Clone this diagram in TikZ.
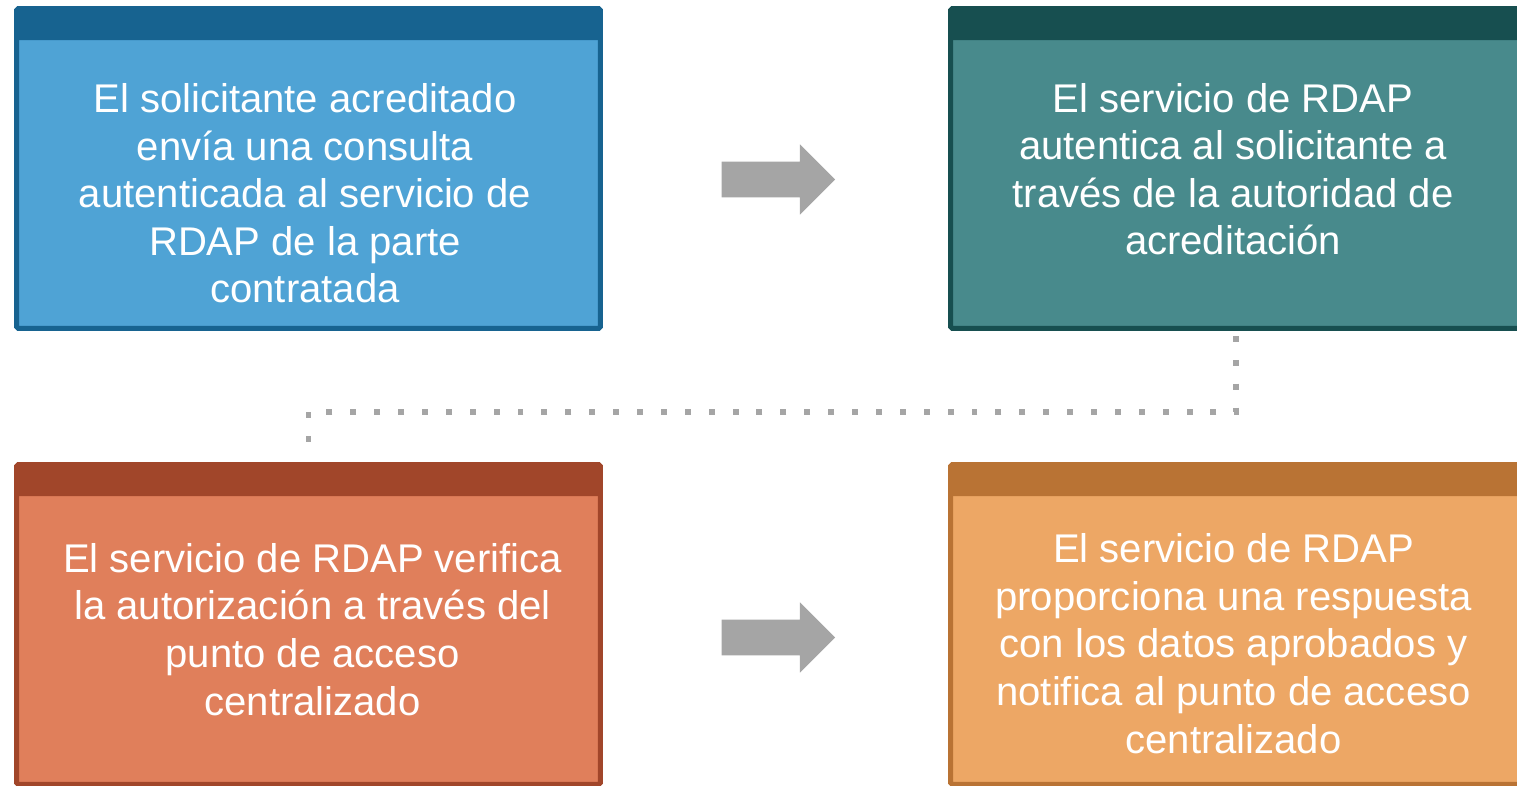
\documentclass[tikz,border=0pt]{standalone}
\usepackage{fontspec}
\setmainfont{Liberation Sans}
\usetikzlibrary{shapes.arrows}
\definecolor{azulosc}{HTML}{176390}
\definecolor{azul}{HTML}{4FA3D5}
\definecolor{verdeosc}{HTML}{174F50}
\definecolor{verde}{HTML}{488A8C}
\definecolor{rojoosc}{HTML}{A1462A}
\definecolor{rojo}{HTML}{E07F5B}
\definecolor{naranjaosc}{HTML}{B97334}
\definecolor{naranja}{HTML}{EDA765}
\definecolor{gris}{HTML}{A5A5A5}
\tikzset{
  paso/.style 2 args={draw=#1, fill=#2, line width=2.83pt, rounded corners=1pt,
    minimum width=11.68cm, minimum height=6.4cm, inner sep=0pt,
    path picture={\fill[#1] (path picture bounding box.north west) rectangle
      ([yshift=-0.63cm]path picture bounding box.north east);}},
  texto/.style={text=white, align=center, anchor=base, inner sep=0pt,
    font=\fontsize{22.8}{27.1}\selectfont},
  flecha/.style={single arrow, fill=gris, draw=none, inner xsep=0pt,
    inner ysep=9.92pt, single arrow head extend=9.92pt, minimum height=64.6pt},
  conector/.style={draw=gris, line width=3.4pt, dash pattern=on 3.4pt off 10.2pt}
}
\begin{document}
\begin{tikzpicture}[x=0.02cm, y=-0.02cm]
  \clip (0,0) rectangle (1517,786);
  \node[paso={azulosc}{azul}] (s1) at (308.5,168.5) {};
  \node[paso={verdeosc}{verde}] (s2) at (1242.5,168.5) {};
  \node[paso={rojoosc}{rojo}] (s3) at (308.5,624.5) {};
  \node[paso={naranjaosc}{naranja}] (s4) at (1242.5,624.5) {};
  \node[texto] (t1) at (305,303) {El solicitante acreditado\\envía una consulta\\autenticada al servicio de\\RDAP de la parte\\contratada};
  \node[texto] (t2) at (1233,255) {El servicio de RDAP\\autentica al solicitante a\\través de la autoridad de\\acreditación};
  \node[texto] (t3) at (312.5,715) {El servicio de RDAP verifica\\la autorización a través del\\punto de acceso\\centralizado};
  \node[texto] (t4) at (1233.5,753) {El servicio de RDAP\\proporciona una respuesta\\con los datos aprobados y\\notifica al punto de acceso\\centralizado};
  \node[flecha] (a1) at (769.5,179.5) {};
  \node[flecha] (a2) at (769.5,637.5) {};
  \draw[conector] ([xshift=-0.13cm,yshift=-0.1cm]s2.south) -- ++(0,76) -| ([yshift=0.3cm]s3.north);
\end{tikzpicture}
\end{document}
